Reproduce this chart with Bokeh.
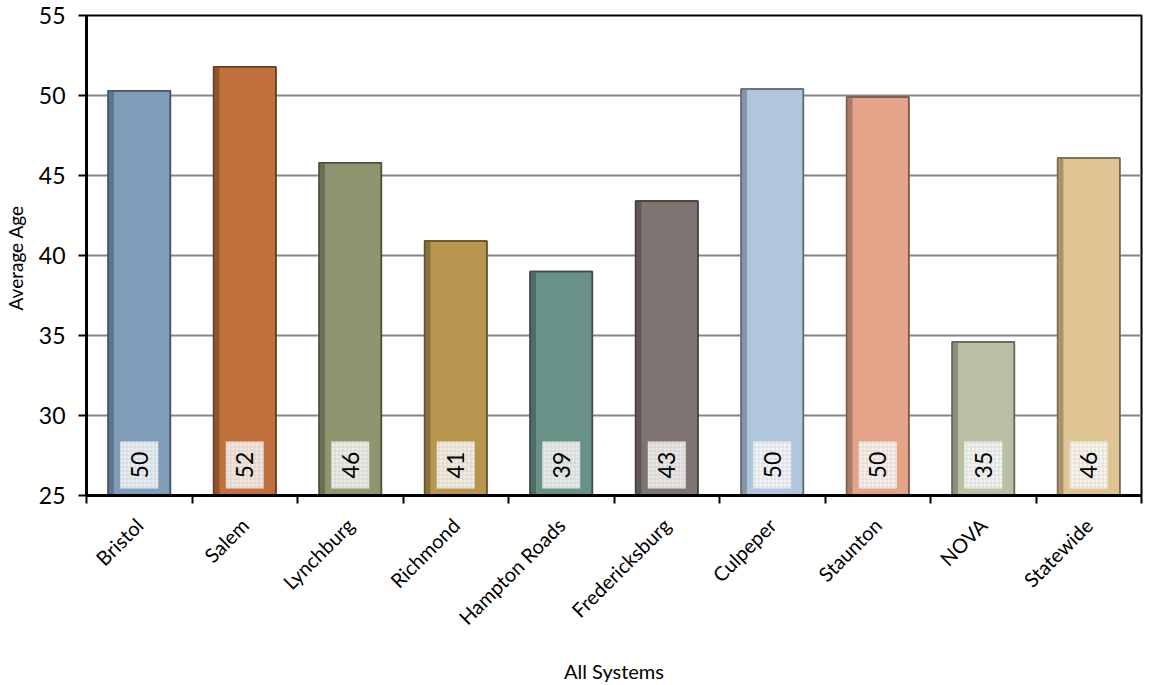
import math
from bokeh.plotting import figure
from bokeh.models import Range1d, FixedTicker, CustomJSTickFormatter, ColumnDataSource
from bokeh.core.properties import value
from bokeh.embed import file_html
from bokeh.resources import INLINE

systems = ["Bristol", "Salem", "Lynchburg", "Richmond", "Hampton Roads",
           "Fredericksburg", "Culpeper", "Staunton", "NOVA", "Statewide"]
avg_age = [50.3, 51.8, 45.8, 40.9, 39.0, 43.4, 50.4, 49.9, 34.6, 46.1]
colors = ["#7F9DB9", "#C0703D", "#8F9570", "#B8964F", "#6A9187",
          "#7F7472", "#AFC6DB", "#E3A48A", "#B9C0A4", "#DFC594"]
y_ticks = [25, 30, 35, 40, 45, 50, 55]

FONT = "Lato"


def shade(c, f):
    r, g, b = int(c[1:3], 16), int(c[3:5], 16), int(c[5:7], 16)
    return "#%02x%02x%02x" % (int(r * f), int(g * f), int(b * f))


n = len(systems)
xc = [i + 0.5 for i in range(n)]
bar_w = 0.59
src = ColumnDataSource(dict(
    x=xc,
    top=avg_age,
    color=colors,
    edge=[shade(c, 0.55) for c in colors],
    side=[shade(c, 0.75) for c in colors],
    xl=[x - bar_w / 2 + 0.03 for x in xc],
    label=[str(int(round(v))) for v in avg_age],
))

p = figure(frame_width=1055, frame_height=480, output_backend="svg",
           toolbar_location=None,
           x_range=Range1d(0, n), y_range=Range1d(y_ticks[0], y_ticks[-1]),
           min_border_left=78, min_border_right=2, min_border_top=15,
           min_border_bottom=10)
p.background_fill_color = "white"
p.border_fill_color = "white"
p.outline_line_color = "black"
p.outline_line_width = 2

# bars
p.vbar(x="x", top="top", bottom=y_ticks[0], width=bar_w, source=src,
       fill_color="color", line_color="edge", line_width=1.5)
p.vbar(x="xl", top="top", bottom=y_ticks[0], width=0.05, source=src,
       fill_color="side", line_color=None)
p.vbar(x="x", top="top", bottom=y_ticks[0], width=bar_w, source=src,
       fill_color=None, line_color="edge", line_width=1.5)

# value label boxes
p.vbar(x="x", bottom=25.44, top=28.37, width=0.36, source=src,
       fill_color="white", fill_alpha=0.82, line_color=None,
       hatch_pattern="+", hatch_color="#9a9a9a", hatch_alpha=0.35,
       hatch_scale=4, hatch_weight=0.6)
p.text(x="x", y=26.9, text="label", source=src, angle=math.pi / 2,
       text_align="center", text_baseline="middle",
       text_font=value(FONT), text_font_size="23px", text_color="black")

# grid
p.xgrid.grid_line_color = None
p.ygrid.ticker = FixedTicker(ticks=y_ticks)
p.ygrid.grid_line_color = "#868686"
p.ygrid.grid_line_width = 2

# y axis
p.yaxis.ticker = FixedTicker(ticks=y_ticks)
p.yaxis.axis_label = "Average  Age"
p.yaxis.axis_label_text_font = FONT
p.yaxis.axis_label_text_font_style = "normal"
p.yaxis.axis_label_text_font_size = "19px"
p.yaxis.axis_label_text_color = "black"
p.yaxis.axis_label_standoff = 9
p.yaxis.major_label_text_font = FONT
p.yaxis.major_label_text_font_size = "23px"
p.yaxis.major_label_text_color = "black"
p.yaxis.major_label_standoff = 13
p.yaxis.axis_line_width = 3
p.yaxis.axis_line_color = "black"
p.yaxis.major_tick_out = 8
p.yaxis.major_tick_in = 0
p.yaxis.major_tick_line_width = 2
p.yaxis.minor_tick_line_color = None

# x axis
p.xaxis.ticker = FixedTicker(ticks=xc, minor_ticks=list(range(n + 1)))
p.xaxis.formatter = CustomJSTickFormatter(args=dict(names=systems),
                                          code="return names[Math.floor(tick)];")
p.xaxis.major_label_orientation = math.pi / 4
p.xaxis.major_label_text_font = FONT
p.xaxis.major_label_text_font_size = "20px"
p.xaxis.major_label_text_color = "black"
p.xaxis.major_label_standoff = 18
p.xaxis.major_tick_out = 0
p.xaxis.major_tick_in = 0
p.xaxis.minor_tick_out = 8
p.xaxis.minor_tick_in = 0
p.xaxis.minor_tick_line_width = 2
p.xaxis.minor_tick_line_color = "black"
p.xaxis.axis_line_width = 3
p.xaxis.axis_line_color = "black"
p.xaxis.axis_label = "All Systems"
p.xaxis.axis_label_text_font = FONT
p.xaxis.axis_label_text_font_style = "normal"
p.xaxis.axis_label_text_font_size = "20px"
p.xaxis.axis_label_text_color = "black"
p.xaxis.axis_label_standoff = 18

open("out.html", "w").write(file_html(p, INLINE))
